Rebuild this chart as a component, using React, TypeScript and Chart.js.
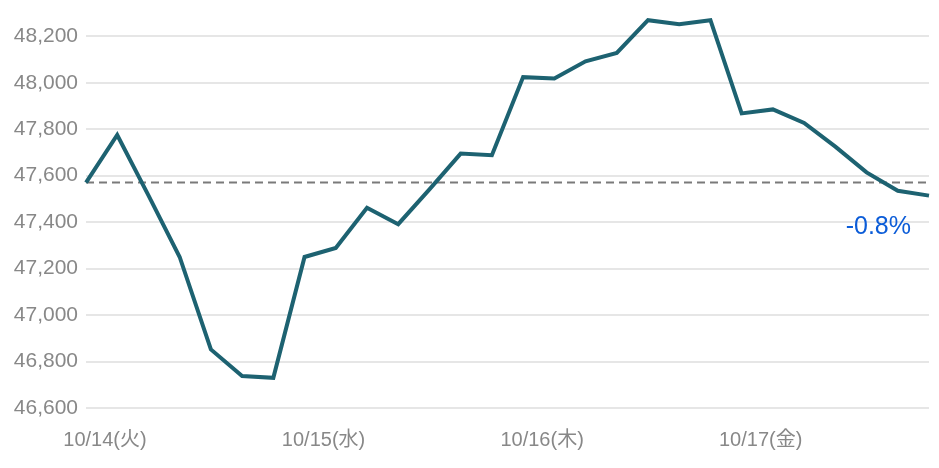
import React, { useEffect, useRef } from "react";
import { Chart, registerables } from "chart.js";

Chart.register(...registerables);

const dayLabels = ["10/14(火)", "10/15(水)", "10/16(木)", "10/17(金)"];
const timeSlots = ["09:00", "10:00", "11:00", "11:30", "13:00", "14:00", "15:00"];
const prices = [
  47570, 47775, 47515, 47250, 46852, 46738, 46730,
  47250, 47289, 47462, 47391, 47541, 47695, 47688,
  48024, 48018, 48092, 48128, 48269, 48252, 48269,
  47868, 47885, 47827, 47725, 47614, 47535, 47514,
];
const prevClose = 47570;
const changeLabel = "-0.8%";
const yMin = 46600;
const yMax = 48300;
const yStep = 200;

const categories = dayLabels.flatMap((d) => timeSlots.map((t) => `${d} ${t}`));

const FONT = 'Arial, "Liberation Sans", "Noto Sans CJK JP", sans-serif';

const overlayPlugin = {
  id: "overlay",
  beforeDatasetsDraw(chart: any) {
    const { ctx, chartArea, scales } = chart;
    const y = scales.y.getPixelForValue(prevClose);
    ctx.save();
    ctx.strokeStyle = "#7a7a7a";
    ctx.lineWidth = 2;
    ctx.setLineDash([8, 5]);
    ctx.beginPath();
    ctx.moveTo(chartArea.left, y);
    ctx.lineTo(chartArea.right, y);
    ctx.stroke();
    ctx.restore();
  },
  afterDatasetsDraw(chart: any) {
    const { ctx } = chart;
    const meta = chart.getDatasetMeta(0);
    const last = meta.data[meta.data.length - 1];
    ctx.save();
    ctx.fillStyle = "#0b5cd8";
    ctx.font = `500 25px ${FONT}`;
    ctx.textAlign = "right";
    ctx.textBaseline = "alphabetic";
    ctx.fillText(changeLabel, last.x - 18, last.y + 38);
    ctx.restore();
  },
};

export default function App() {
  const ref = useRef<HTMLCanvasElement | null>(null);
  useEffect(() => {
    if (!ref.current) return;
    const chart = new Chart(ref.current, {
      type: "line",
      data: {
        labels: categories,
        datasets: [
          {
            data: prices,
            borderColor: "#1d6271",
            borderWidth: 4,
            pointRadius: 0,
            tension: 0,
            fill: false,
          },
        ],
      },
      options: {
        animation: false,
        responsive: true,
        maintainAspectRatio: false,
        layout: { padding: { top: 5, right: 2, bottom: 8, left: 0 } },
        plugins: { legend: { display: false }, tooltip: { enabled: false } },
        scales: {
          x: {
            type: "category",
            offset: false,
            grid: { display: false, drawTicks: false },
            border: { display: false },
            afterFit: (scale: any) => {
              scale.paddingLeft = 0;
              scale.paddingRight = 0;
              scale.height = 44;
            },
            ticks: {
              autoSkip: false,
              maxRotation: 0,
              minRotation: 0,
              padding: 20,
              labelOffset: 19,
              color: "#888888",
              font: { size: 20, family: FONT },
              callback: (_v: any, i: number) =>
                i % timeSlots.length === 0 ? dayLabels[i / timeSlots.length] : "",
            },
          },
          y: {
            min: yMin,
            max: yMax,
            grid: { color: "#e6e6e6", lineWidth: 2, drawTicks: false },
            border: { display: false },
            afterBuildTicks: (scale: any) => {
              scale.ticks = scale.ticks.filter((t: any) => t.value % yStep === 0);
            },
            afterFit: (scale: any) => {
              scale.width = 78;
              scale.paddingTop = 0;
              scale.paddingBottom = 0;
            },
            ticks: {
              stepSize: yStep,
              includeBounds: false,
              padding: 8,
              color: "#888888",
              font: { size: 21, family: FONT },
              callback: (v: any) => Number(v).toLocaleString("en-US"),
            },
          },
        },
      },
      plugins: [overlayPlugin],
    });
    return () => chart.destroy();
  }, []);
  return (
    <div style={{ position: "relative", height: 452 }}>
      <canvas ref={ref} />
    </div>
  );
}
